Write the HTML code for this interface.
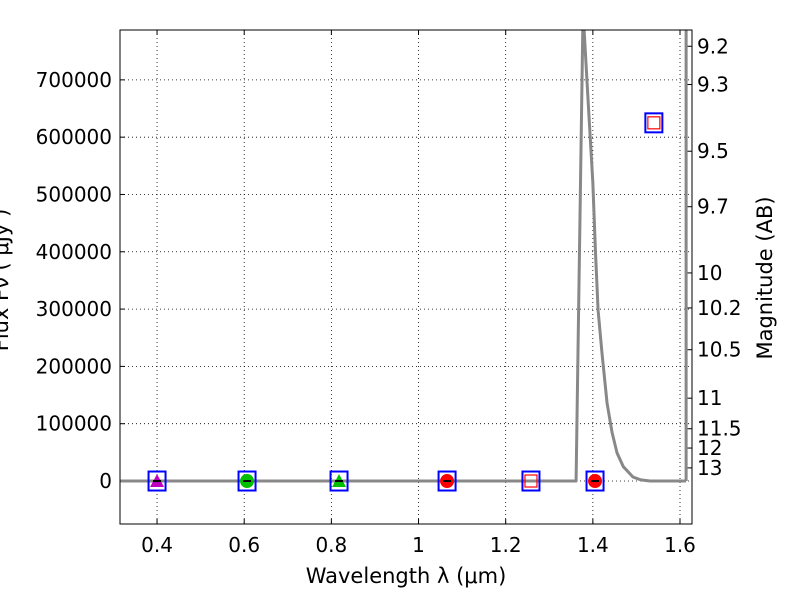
<!DOCTYPE html>
<html><head><meta charset="utf-8"><style>
body{margin:0;background:#fff;}
svg{display:block;font-family:"DejaVu Sans","Liberation Sans",sans-serif;}
</style></head><body>
<svg id="chart" width="800" height="600"></svg>
<script>
const ticksX=[0.4,0.6,0.8,1.0,1.2,1.4,1.6];
const tickLabelsX=["0.4","0.6","0.8","1","1.2","1.4","1.6"];
const ticksY=[0,100000,200000,300000,400000,500000,600000,700000];
const magTicks=[9.2,9.3,9.5,9.7,10,10.2,10.5,11,11.5,12,13];
const curveX=[0.315,1.3615,1.3775,1.389,1.400,1.406,1.412,1.421,1.4326,1.444,1.4555,1.470,1.492,1.510,1.531,1.614];
const curveY=[0,0,820000,665000,520000,400000,298000,223000,136000,85000,49000,25000,7000,2000,0,0];
const edgeX=[1.614];
const edgeY=[820000];
const ptX=[0.4,0.6065,0.8176,1.0655,1.258,1.405,1.54];
const ptY=[0,0,0,0,0,0,625000];
const ptShape=["tri","circ","tri","circ","sq","circ","sq"];
const ptColor=["#bf00bf","#00bf00","#00bf00","#ff0000","#ff0000","#ff0000","#ff0000"];

const L=120,R=692,T=30,B=524;
const xMin=0.315,xMax=1.6275,yMin=-75000,yMax=787000;
const X=v=>L+(v-xMin)/(xMax-xMin)*(R-L);
const Y=v=>B-(v-yMin)/(yMax-yMin)*(B-T);
const NS="http://www.w3.org/2000/svg";
const svg=document.getElementById('chart');
function mk(tag,attrs,parent){const e=document.createElementNS(NS,tag);for(const k in attrs)e.setAttribute(k,attrs[k]);(parent||svg).appendChild(e);return e;}
const defs=mk('defs',{});const cp=mk('clipPath',{id:'c'},defs);mk('rect',{x:L,y:T,width:R-L,height:B-T},cp);
ticksX.forEach((v,i)=>{
 const g=mk('line',{x1:X(v),x2:X(v),y1:T,y2:B,stroke:'#000','stroke-width':0.8,'stroke-dasharray':'1,3'});
 
 
 mk('line',{x1:X(v),x2:X(v),y1:B,y2:B-5,stroke:'#000'});
 mk('line',{x1:X(v),x2:X(v),y1:T,y2:T+5,stroke:'#000'});
 const t=mk('text',{x:X(v),y:B+28,'text-anchor':'middle','font-size':20});t.textContent=tickLabelsX[i];
 
 
});
ticksY.forEach(v=>{
 const g=mk('line',{x1:L,x2:R,y1:Y(v),y2:Y(v),stroke:'#000','stroke-width':0.8,'stroke-dasharray':'1,3'});
 
 
 mk('line',{x1:L,x2:L+5,y1:Y(v),y2:Y(v),stroke:'#000'});
 const t=mk('text',{x:L-8,y:Y(v)+7,'text-anchor':'end','font-size':20});t.textContent=String(v);
 
 
});
magTicks.forEach(m=>{
 const f=3631e6*Math.pow(10,-m/2.5);const y=Y(f);
 mk('line',{x1:R,x2:R-5,y1:y,y2:y,stroke:'#000'});
 const t=mk('text',{x:R+5,y:y+7,'font-size':20});t.textContent=String(m);
 
 
});
const g=mk('g',{'clip-path':'url(#c)'});
const p=mk('polyline',{points:curveX.map((x,i)=>X(x)+','+Y(curveY[i])).join(' '),fill:'none',stroke:'#888','stroke-width':3,'stroke-linejoin':'round'},g);


edgeX.forEach((x,i)=>{
 const e=mk('line',{x1:X(x),x2:X(x),y1:Y(0),y2:Y(edgeY[i]),stroke:'#888','stroke-width':3},g);
 
 
});
ptX.forEach((v,i)=>{
 const cx=X(v),cy=Y(ptY[i]);
 const grp=mk('g',{},g);
 
 
 const c=ptColor[i];
 if(ptShape[i]==='tri')mk('polygon',{points:`${cx},${cy-7} ${cx-7},${cy+6} ${cx+7},${cy+6}`,fill:c},grp);
 else if(ptShape[i]==='circ')mk('circle',{cx,cy,r:7,fill:c},grp);
 else mk('rect',{x:cx-6,y:cy-6,width:12,height:12,fill:'none',stroke:c,'stroke-width':1.2},grp);
 if(ptShape[i]!=='sq')mk('line',{x1:cx-4,x2:cx+4,y1:cy,y2:cy,stroke:'#000','stroke-width':2},grp);
 mk('rect',{x:cx-8.5,y:cy-9.5,width:17,height:19,fill:'none',stroke:'#0000ff','stroke-width':2},grp);
});
const fr=mk('rect',{x:L,y:T,width:R-L,height:B-T,fill:'none',stroke:'#000','stroke-width':1});


const xl=mk('text',{x:406,y:583,'text-anchor':'middle','font-size':21});xl.textContent='Wavelength  λ (μm)';


const yl=mk('text',{x:0,y:0,'text-anchor':'middle','font-size':21,transform:'translate(8,280) rotate(-90)'});yl.textContent='Flux  Fν  ( μJy )';


const rl=mk('text',{x:0,y:0,'text-anchor':'middle','font-size':21,transform:'translate(772,278) rotate(-90)'});rl.textContent='Magnitude (AB)';


</script>
</body></html>
